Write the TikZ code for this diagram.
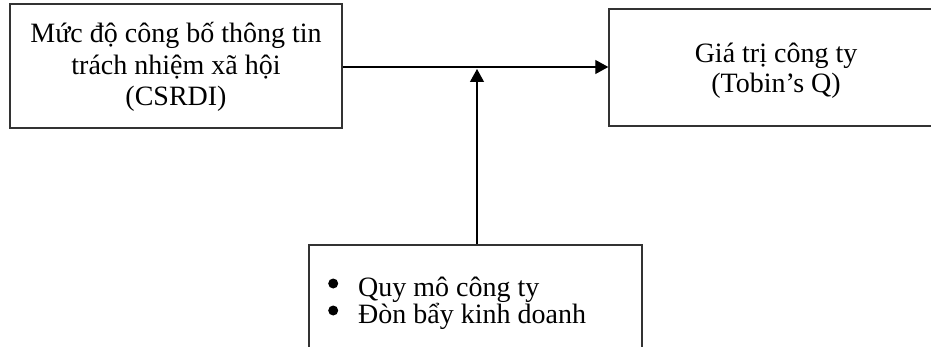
\documentclass[tikz,border=0pt]{standalone}
\usepackage{fontspec}
\setmainfont{Liberation Serif}
\usetikzlibrary{arrows.meta}
\newcommand{\bigbul}{\tikz[baseline=0pt]\fill (5pt,12.5pt) circle[radius=5pt];}
\begin{document}
\begin{tikzpicture}[x=1pt,y=-1pt,
  box/.style={draw=black!80, line width=1.4pt, rectangle, inner sep=0pt},
  conn/.style={line width=1.2pt, -{Triangle[length=13pt,width=14pt]}},
  txt/.style={font=\fontsize{28}{31.5}\selectfont, align=center, inner sep=0pt},
  listtxt/.style={font=\fontsize{28}{27}\selectfont, align=left, inner sep=0pt}]
\useasboundingbox (0,0) rectangle (931,347);
\clip (0,0) rectangle (931,347);
\node[box, minimum width=332pt, minimum height=124pt] (csr) at (176,66) {};
\node[txt, anchor=base] (csrtxt) at (176,106)
  {Mức độ công bố thông tin\\trách nhiệm xã hội\\(CSRDI)};
\node[box, minimum width=334pt, minimum height=117pt] (val) at (776,67.5) {};
\node[txt, anchor=base, font=\fontsize{28}{30}\selectfont] (valtxt) at (776,93)
  {Giá trị công ty\\(Tobin’s Q)};
\node[box, minimum width=333pt, minimum height=135pt] (ctrl) at (475.5,312.5) {};
\node[listtxt, anchor=base west] (list) at (328,323)
  {\makebox[30pt][l]{\bigbul}Quy mô công ty\\\makebox[30pt][l]{\bigbul}Đòn bẩy kinh doanh};
\coordinate (tip) at (477,69);
\draw[conn] (csr.east |- 0,67) -- (val.west |- 0,67);
\draw[conn] (tip |- ctrl.north) -- (tip);
\end{tikzpicture}
\end{document}
